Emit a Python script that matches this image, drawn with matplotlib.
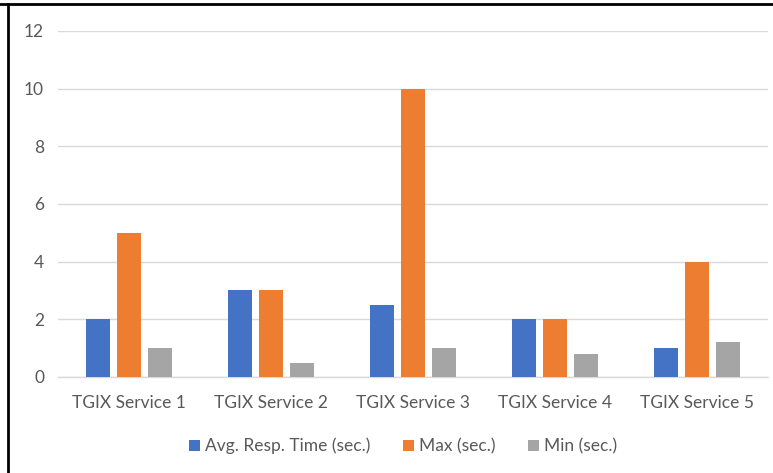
import matplotlib.pyplot as plt
from matplotlib.lines import Line2D
import numpy as np

# ---------------------------------------------------------------------------
# Data
# ---------------------------------------------------------------------------
services = ['TGIX Service 1', 'TGIX Service 2', 'TGIX Service 3',
            'TGIX Service 4', 'TGIX Service 5']
avg_resp = [2, 3, 2.5, 2, 1]
max_resp = [5, 3, 10, 2, 4]
min_resp = [1, 0.5, 1, 0.8, 1.2]
series_labels = ['Avg. Resp. Time (sec.)', 'Max (sec.)', 'Min (sec.)']
y_ticks = [0, 2, 4, 6, 8, 10, 12]

COLORS = ['#4472C4', '#ED7D31', '#A5A5A5']
TEXT_COLOR = '#595959'
GRID_COLOR = '#D9D9D9'

plt.rcParams['font.family'] = ['Lato', 'DejaVu Sans']

fig = plt.figure(figsize=(7.73, 4.73), dpi=100)
ax = fig.add_axes([0.075, 0.203, 0.9185, 0.7315])

x = np.arange(len(services))
width = 0.17
step = 0.218
for i, (vals, lbl) in enumerate(zip([avg_resp, max_resp, min_resp], series_labels)):
    ax.bar(x + (i - 1) * step, vals, width, color=COLORS[i], label=lbl, zorder=3)

ax.set_xlim(-0.5, len(services) - 0.5)
ax.set_ylim(0, 12)
ax.set_yticks(y_ticks)
ax.set_xticks(x)
ax.set_xticklabels(services)
ax.tick_params(axis='both', length=0, colors=TEXT_COLOR, labelsize=12.5)
ax.tick_params(axis='y', pad=10)
ax.tick_params(axis='x', pad=13)
ax.grid(axis='y', color=GRID_COLOR, linewidth=1, zorder=0)
for s in ['top', 'right', 'left']:
    ax.spines[s].set_visible(False)
ax.spines['bottom'].set_color(GRID_COLOR)
ax.spines['bottom'].set_linewidth(1)

ax.legend(loc='upper center', bbox_to_anchor=(0.486, -0.13), ncol=3,
          frameon=False, fontsize=12.5, labelcolor=TEXT_COLOR,
          handlelength=0.6, handleheight=0.6, handletextpad=0.3,
          columnspacing=1.9)

# frame lines (top and left only, as in the screenshot)
fig.add_artist(Line2D([0, 1], [1 - 4 / 473, 1 - 4 / 473], color='black',
                      linewidth=2, transform=fig.transFigure))
fig.add_artist(Line2D([8 / 773, 8 / 773], [0, 1 - 4 / 473], color='black',
                      linewidth=2, transform=fig.transFigure))

fig.savefig('out.png', dpi=100)
